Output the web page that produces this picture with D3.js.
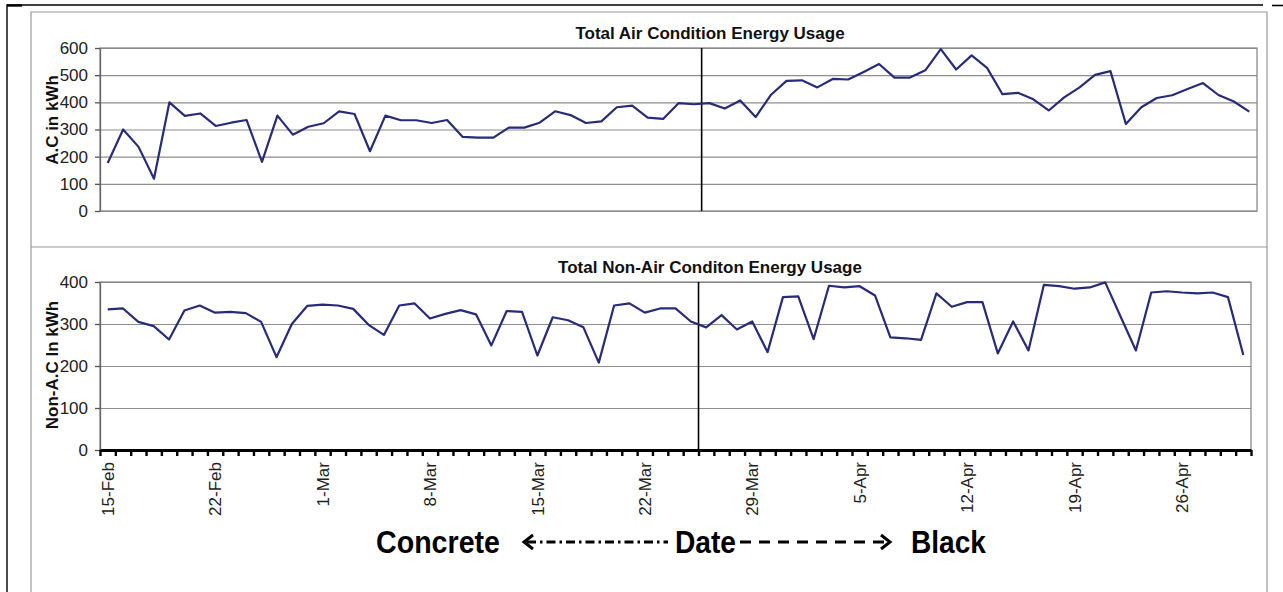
<!DOCTYPE html>
<html>
<head>
<meta charset="utf-8">
<script src="https://cdn.jsdelivr.net/npm/d3@7"></script>
<style>
  html, body { margin: 0; padding: 0; background: #fff; }
  svg { display: block; font-family: "Liberation Sans", Arial, sans-serif; }
</style>
</head>
<body>
<svg id="chart" width="1283" height="592"></svg>
<script>
// One category per day, 15-Feb through 30-Apr
const days = d3.timeDay.range(new Date(2009, 1, 15), new Date(2009, 4, 1)).map(d3.timeFormat("%-d-%b"));

const tickLabels = ["15-Feb", "22-Feb", "1-Mar", "8-Mar", "15-Mar", "22-Mar",
                    "29-Mar", "5-Apr", "12-Apr", "19-Apr", "26-Apr"];

// Daily air-conditioning energy (kWh)
const acUsage = [177, 300, 236, 119, 400, 350, 359, 313, 325, 335,
                 181, 351, 281, 310, 323, 367, 357, 220, 351, 334,
                 334, 324, 335, 273, 270, 270, 307, 307, 325, 367,
                 353, 324, 330, 382, 388, 344, 339, 397, 393, 397,
                 377, 407, 346, 428, 479, 481, 455, 486, 484, 512,
                 541, 491, 491, 518, 596, 521, 573, 527, 430, 435,
                 411, 370, 418, 455, 501, 515, 320, 382, 416, 426,
                 449, 471, 427, 403, 366];

// Daily non-air-conditioning energy (kWh)
const nonAcUsage = [335, 337, 305, 295, 263, 332, 344, 327, 329, 326,
                    305, 221, 300, 343, 346, 344, 336, 298, 274, 344,
                    349, 313, 324, 333, 323, 249, 331, 329, 225, 316,
                    309, 292, 208, 344, 349, 327, 337, 337, 306, 292,
                    321, 287, 306, 233, 364, 366, 264, 391, 387, 390,
                    368, 268, 266, 262, 373, 341, 352, 352, 230, 306,
                    237, 393, 390, 384, 387, 399, 318, 237, 375, 378,
                    375, 373, 375, 364, 226];

const acTicks = [0, 100, 200, 300, 400, 500, 600];
const nonAcTicks = [0, 100, 200, 300, 400];

// First day with the black roof surface
const switchDay = "26-Mar";

const svg = d3.select("#chart");
const ink = "#272b79";
const font = "'Liberation Sans', Arial, sans-serif";

// Outer page frame
svg.append("path").attr("d", "M7,592V5H1263").attr("fill", "none").attr("stroke", "#000").attr("stroke-width", 1.4);
svg.append("line").attr("x1", 7).attr("x2", 22).attr("y1", 5.5).attr("y2", 5.5).attr("stroke", "#000").attr("stroke-width", 2.4);
svg.append("line").attr("x1", 1272).attr("x2", 1283).attr("y1", 5.5).attr("y2", 5.5).attr("stroke", "#000").attr("stroke-width", 1.6);

// Chart frame and divider between the two panels
svg.append("path").attr("d", "M31,592V12H1267V592").attr("fill", "none").attr("stroke", "#9a9a9a").attr("stroke-width", 1.2);
svg.append("line").attr("x1", 31).attr("x2", 1267).attr("y1", 247).attr("y2", 247).attr("stroke", "#9a9a9a").attr("stroke-width", 1.2);

function panel(o) {
  const x = d3.scaleBand().domain(days).range([o.left, o.right]).padding(0);
  const y = d3.scaleLinear().domain([0, d3.max(o.ticks)]).range([o.bottom, o.top]);
  const w = o.right - o.left;
  const g = svg.append("g");

  // horizontal gridlines
  g.append("g")
    .attr("transform", `translate(${o.left},0)`)
    .call(d3.axisLeft(y).tickValues(o.ticks).tickSize(-w).tickFormat(""))
    .call(s => {
      s.select(".domain").remove();
      s.selectAll("line").attr("stroke", "#8e8e8e").attr("stroke-width", 1.1);
    });

  // plot area border
  g.append("rect")
    .attr("x", o.left).attr("y", o.top)
    .attr("width", w).attr("height", o.bottom - o.top)
    .attr("fill", "none").attr("stroke", "#8a8a8a").attr("stroke-width", 1.3);

  // value axis
  g.append("g")
    .attr("transform", `translate(${o.left},0)`)
    .call(d3.axisLeft(y).tickValues(o.ticks).tickSize(5).tickSizeOuter(0).tickPadding(7))
    .call(s => {
      s.attr("font-family", font).attr("font-size", 17);
      s.select(".domain").attr("stroke", "#666").attr("stroke-width", 1.3);
      s.selectAll(".tick line").attr("stroke", "#555").attr("stroke-width", 1.3);
      s.selectAll(".tick text").attr("fill", "#222");
    });

  // value axis title
  g.append("text")
    .attr("transform", `translate(58,${o.yTitleY}) rotate(-90)`)
    .attr("text-anchor", "middle")
    .attr("font-family", font).attr("font-size", 17).attr("font-weight", "bold")
    .attr("fill", "#111")
    .text(o.yTitle);

  // panel title
  g.append("text")
    .attr("x", 710).attr("y", o.titleY)
    .attr("text-anchor", "middle")
    .attr("font-family", font).attr("font-size", 17).attr("font-weight", "bold")
    .attr("fill", "#111")
    .text(o.title);

  // date axis with tick marks between days
  if (o.dateAxis) {
    const edges = d3.scaleLinear().domain([0, days.length]).range([o.left, o.right]);
    g.append("g")
      .attr("transform", `translate(0,${o.bottom})`)
      .call(d3.axisBottom(edges).tickValues(d3.range(days.length + 1)).tickSize(6).tickSizeOuter(0).tickFormat(""))
      .call(s => {
        s.select(".domain").attr("stroke", "#000").attr("stroke-width", 3);
        s.selectAll(".tick line").attr("stroke", "#000").attr("stroke-width", 2.4);
      });
    g.append("g")
      .attr("transform", `translate(0,${o.bottom})`)
      .call(d3.axisBottom(x).tickValues(tickLabels).tickSize(0))
      .call(s => {
        s.attr("font-family", font).attr("font-size", 17);
        s.select(".domain").remove();
        s.selectAll(".tick text")
          .attr("fill", "#222")
          .attr("transform", "rotate(-90)")
          .attr("text-anchor", "end")
          .attr("x", -12).attr("y", 0).attr("dy", "0.36em");
      });
  }

  // boundary between the two roof treatments
  const sx = x(switchDay);
  g.append("line")
    .attr("x1", sx).attr("x2", sx).attr("y1", o.top).attr("y2", o.bottom)
    .attr("stroke", "#000").attr("stroke-width", 1.6);

  // the series
  const line = d3.line()
    .x((d, i) => x(days[i]) + x.bandwidth() / 2)
    .y(d => y(d));
  g.append("path")
    .datum(o.values)
    .attr("d", line)
    .attr("fill", "none")
    .attr("stroke", ink)
    .attr("stroke-width", 2.2)
    .attr("stroke-linejoin", "round");
}

panel({
  left: 100, right: 1257, top: 48, bottom: 211,
  ticks: acTicks, values: acUsage,
  title: "Total Air Condition Energy Usage", titleY: 39,
  yTitle: "A.C in kWh", yTitleY: 120,
  dateAxis: false
});

panel({
  left: 100, right: 1251, top: 282, bottom: 450,
  ticks: nonAcTicks, values: nonAcUsage,
  title: "Total Non-Air Conditon Energy Usage", titleY: 273,
  yTitle: "Non-A.C In kWh", yTitleY: 365,
  dateAxis: true
});

// Caption under the date axis: concrete period on the left, black on the right
const cap = svg.append("g").attr("font-family", font).attr("font-weight", "bold").attr("fill", "#000");
const capY = 553;
const midY = capY - 11;
cap.append("text").attr("x", 376).attr("y", capY).attr("font-size", 32)
  .attr("textLength", 124).attr("lengthAdjust", "spacingAndGlyphs").text("Concrete");
cap.append("text").attr("x", 675).attr("y", capY).attr("font-size", 32)
  .attr("textLength", 61).attr("lengthAdjust", "spacingAndGlyphs").text("Date");
cap.append("text").attr("x", 911).attr("y", capY).attr("font-size", 32)
  .attr("textLength", 75).attr("lengthAdjust", "spacingAndGlyphs").text("Black");

// left arrow, dash-dot
svg.append("line").attr("x1", 527).attr("x2", 668).attr("y1", midY).attr("y2", midY)
  .attr("stroke", "#000").attr("stroke-width", 3).attr("stroke-dasharray", "9,4,2.5,4");
svg.append("path").attr("d", `M533,${midY - 7}L524,${midY}L533,${midY + 7}`)
  .attr("fill", "none").attr("stroke", "#000").attr("stroke-width", 3);

// right arrow, dashed
svg.append("line").attr("x1", 740).attr("x2", 884).attr("y1", midY).attr("y2", midY)
  .attr("stroke", "#000").attr("stroke-width", 3).attr("stroke-dasharray", "11,8");
svg.append("path").attr("d", `M881,${midY - 7}L890,${midY}L881,${midY + 7}`)
  .attr("fill", "none").attr("stroke", "#000").attr("stroke-width", 3);
</script>
</body>
</html>
